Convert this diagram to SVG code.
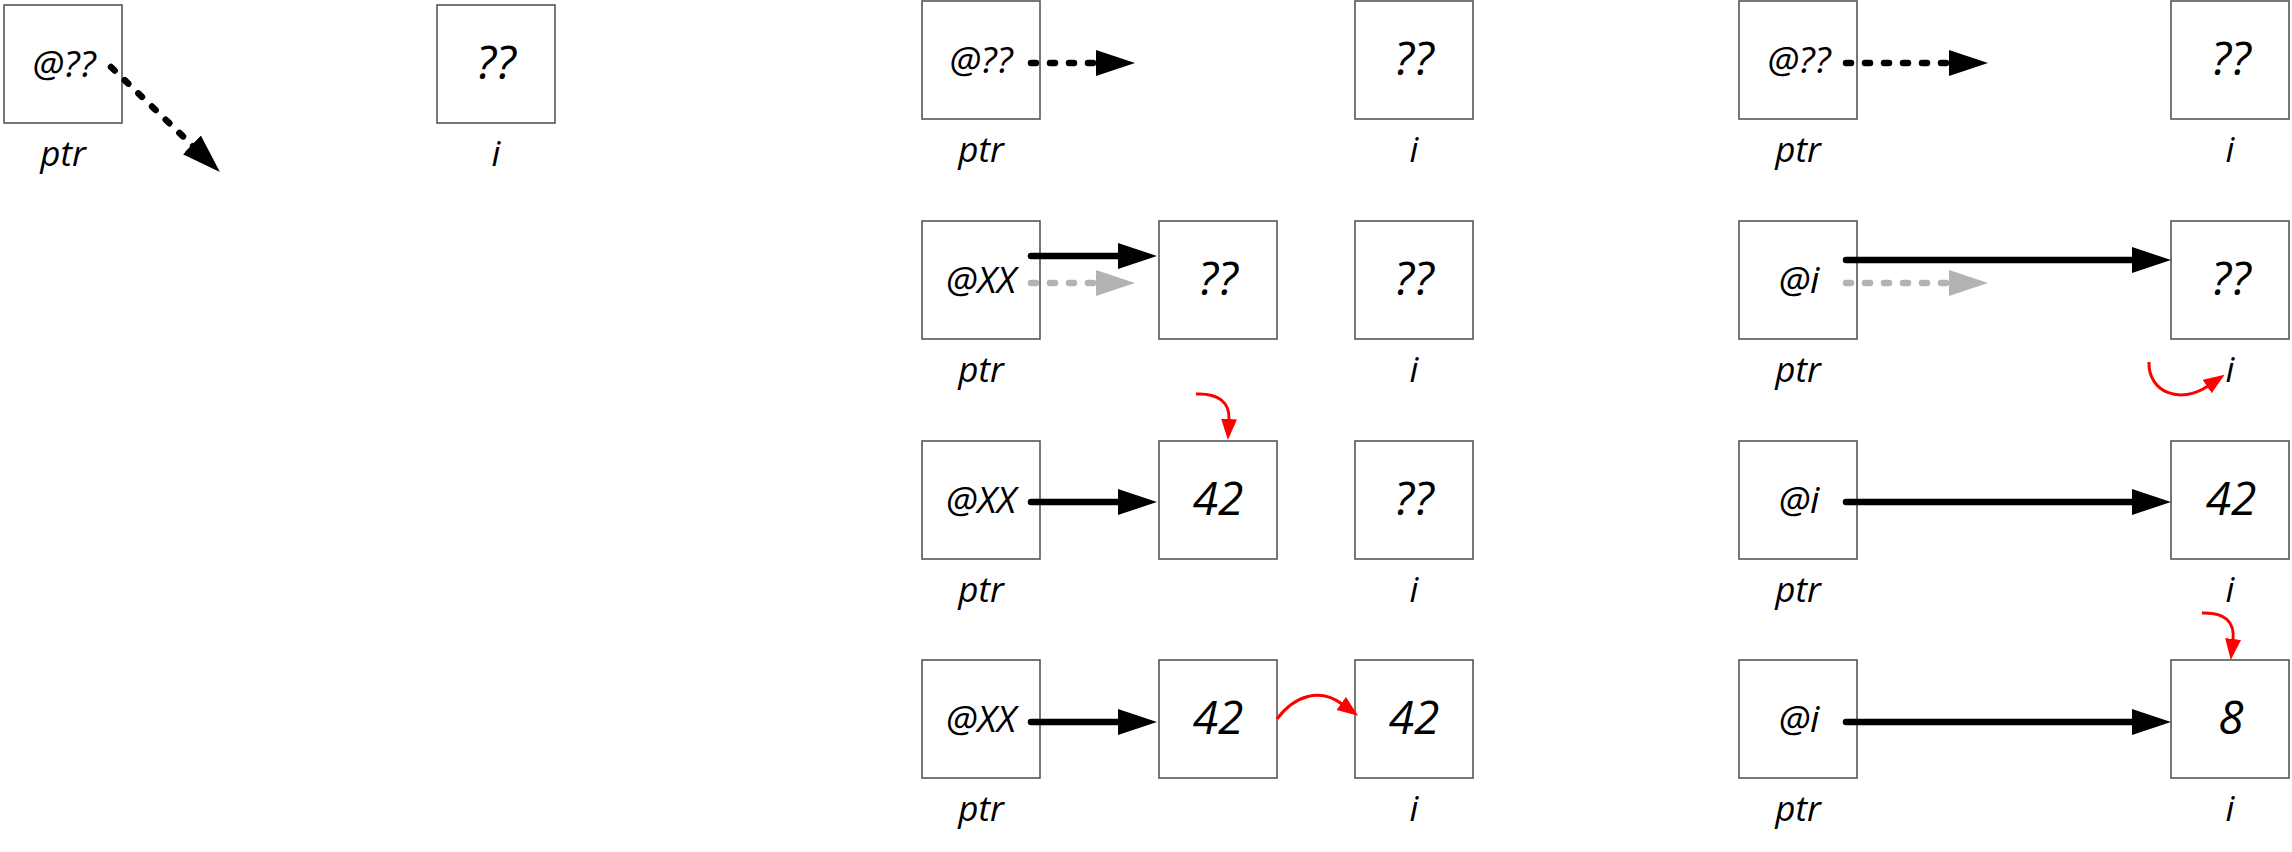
<svg xmlns="http://www.w3.org/2000/svg" width="2292" height="852" viewBox="0 0 2292 852">
<style>
.box{fill:#fff;stroke:#555;stroke-width:1.6}
.pv{font-family:"Open Sans",sans-serif;font-style:italic;font-size:37px;text-anchor:middle;fill:#000}
.vv{font-family:"Open Sans",sans-serif;font-style:italic;font-size:46px;text-anchor:middle;fill:#000}
.lb{font-family:"Open Sans",sans-serif;font-style:italic;font-size:35px;text-anchor:middle;fill:#000}
.blk{stroke:#000;stroke-width:6.5;stroke-linecap:round;fill:none;marker-end:url(#ah)}
.dsh{stroke:#000;stroke-width:6.5;stroke-linecap:round;stroke-dasharray:5 14;fill:none;marker-end:url(#ah)}
.gry{stroke:#b3b3b3;stroke-width:6.5;stroke-linecap:round;stroke-dasharray:5 14;fill:none;marker-end:url(#ahg)}
.red{stroke:#ff0000;stroke-width:3;fill:none;marker-end:url(#ahr)}
</style>
<defs>
<marker id="ah" markerUnits="userSpaceOnUse" markerWidth="40" markerHeight="28" refX="3" refY="13" orient="auto"><path d="M0,0 L39,13 L0,26 z" fill="#000"/></marker>
<marker id="ahg" markerUnits="userSpaceOnUse" markerWidth="40" markerHeight="28" refX="3" refY="13" orient="auto"><path d="M0,0 L39,13 L0,26 z" fill="#b3b3b3"/></marker>
<marker id="ahr" markerUnits="userSpaceOnUse" markerWidth="22" markerHeight="18" refX="1" refY="8" orient="auto"><path d="M0,0 L21,8 L0,16 z" fill="#ff0000"/></marker>
</defs>
<rect width="2292" height="852" fill="#fff"/>

<!-- Left diagram -->
<g id="L-ptr"><rect class="box" x="4" y="5" width="118" height="118"/><text class="pv" x="64" y="77">@??</text><text class="lb" x="63" y="166">ptr</text></g>
<g id="L-i"><rect class="box" x="437" y="5" width="118" height="118"/><text class="vv" x="496" y="79">??</text><text class="lb" x="496" y="166">i</text></g>

<!-- Column 2 -->
<g id="B1-ptr"><rect class="box" x="922" y="1" width="118" height="118"/><text class="pv" x="981" y="73">@??</text><text class="lb" x="981" y="162">ptr</text></g>
<g id="B1-i"><rect class="box" x="1355" y="1" width="118" height="118"/><text class="vv" x="1414" y="75">??</text><text class="lb" x="1414" y="162">i</text></g>

<g id="B2-ptr"><rect class="box" x="922" y="221" width="118" height="118"/><text class="pv" x="981" y="293">@XX</text><text class="lb" x="981" y="382">ptr</text></g>
<g id="B2-m"><rect class="box" x="1159" y="221" width="118" height="118"/><text class="vv" x="1218" y="295">??</text></g>
<g id="B2-i"><rect class="box" x="1355" y="221" width="118" height="118"/><text class="vv" x="1414" y="295">??</text><text class="lb" x="1414" y="382">i</text></g>

<g id="B3-ptr"><rect class="box" x="922" y="441" width="118" height="118"/><text class="pv" x="981" y="513">@XX</text><text class="lb" x="981" y="602">ptr</text></g>
<g id="B3-m"><rect class="box" x="1159" y="441" width="118" height="118"/><text class="vv" x="1218" y="515">42</text></g>
<g id="B3-i"><rect class="box" x="1355" y="441" width="118" height="118"/><text class="vv" x="1414" y="515">??</text><text class="lb" x="1414" y="602">i</text></g>

<g id="B4-ptr"><rect class="box" x="922" y="660" width="118" height="118"/><text class="pv" x="981" y="732">@XX</text><text class="lb" x="981" y="821">ptr</text></g>
<g id="B4-m"><rect class="box" x="1159" y="660" width="118" height="118"/><text class="vv" x="1218" y="734">42</text></g>
<g id="B4-i"><rect class="box" x="1355" y="660" width="118" height="118"/><text class="vv" x="1414" y="734">42</text><text class="lb" x="1414" y="821">i</text></g>

<!-- Column 3 -->
<g id="C1-ptr"><rect class="box" x="1739" y="1" width="118" height="118"/><text class="pv" x="1799" y="73">@??</text><text class="lb" x="1798" y="162">ptr</text></g>
<g id="C1-i"><rect class="box" x="2171" y="1" width="118" height="118"/><text class="vv" x="2231" y="75">??</text><text class="lb" x="2230" y="162">i</text></g>

<g id="C2-ptr"><rect class="box" x="1739" y="221" width="118" height="118"/><text class="pv" x="1799" y="293">@i</text><text class="lb" x="1798" y="382">ptr</text></g>
<g id="C2-i"><rect class="box" x="2171" y="221" width="118" height="118"/><text class="vv" x="2231" y="295">??</text><text class="lb" x="2230" y="382">i</text></g>

<g id="C3-ptr"><rect class="box" x="1739" y="441" width="118" height="118"/><text class="pv" x="1799" y="513">@i</text><text class="lb" x="1798" y="602">ptr</text></g>
<g id="C3-i"><rect class="box" x="2171" y="441" width="118" height="118"/><text class="vv" x="2231" y="515">42</text><text class="lb" x="2230" y="602">i</text></g>

<g id="C4-ptr"><rect class="box" x="1739" y="660" width="118" height="118"/><text class="pv" x="1799" y="732">@i</text><text class="lb" x="1798" y="821">ptr</text></g>
<g id="C4-i"><rect class="box" x="2171" y="660" width="118" height="118"/><text class="vv" x="2231" y="734">8</text><text class="lb" x="2230" y="821">i</text></g>

<g id="connectors">
<line class="dsh" x1="111" y1="67" x2="194" y2="147"/>

<line class="dsh" x1="1031" y1="63" x2="1099" y2="63"/>
<line class="blk" x1="1031" y1="256" x2="1121" y2="256"/>
<line class="gry" x1="1031" y1="283" x2="1099" y2="283"/>
<line class="blk" x1="1031" y1="502" x2="1121" y2="502"/>
<line class="blk" x1="1031" y1="722" x2="1121" y2="722"/>

<line class="dsh" x1="1846" y1="63" x2="1952" y2="63"/>
<line class="blk" x1="1846" y1="260" x2="2135" y2="260"/>
<line class="gry" x1="1846" y1="283" x2="1952" y2="283"/>
<line class="blk" x1="1846" y1="502" x2="2135" y2="502"/>
<line class="blk" x1="1846" y1="722" x2="2135" y2="722"/>

<path class="red" d="M1196,394 C1218,393 1230,402 1229,420"/>
<path class="red" d="M1277,719 C1295,695 1320,688 1342,704"/>
<path class="red" d="M2149,362 C2148,392 2180,405 2208,386"/>
<path class="red" d="M2202,613 C2225,612 2235,622 2233,640"/>
</g>
</svg>
